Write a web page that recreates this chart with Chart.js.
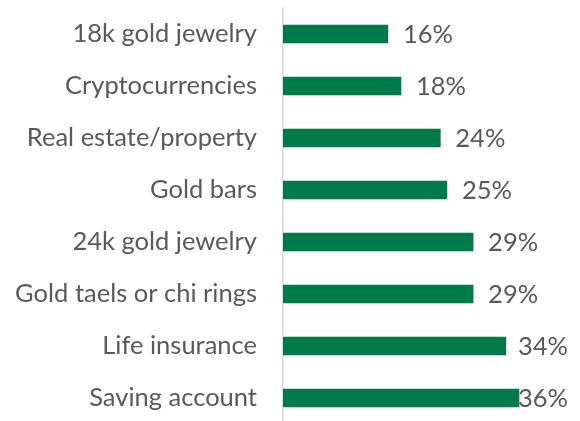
<!DOCTYPE html>
<html>
<head>
<meta charset="utf-8">
<script src="https://cdn.jsdelivr.net/npm/chart.js@4/dist/chart.umd.min.js"></script>
<style>
  html, body { margin: 0; padding: 0; background: #fff; overflow: hidden; }
  #wrap { width: 580px; height: 424px; }
</style>
</head>
<body>
<div id="wrap"><canvas id="barChart" width="580" height="424"></canvas></div>
<script>
const categories = ["18k gold jewelry", "Cryptocurrencies", "Real estate/property", "Gold bars",
                    "24k gold jewelry", "Gold taels or chi rings", "Life insurance", "Saving account"];
const shares = [16, 18, 24, 25, 29, 29, 34, 36];

const FONT = { family: "Lato, 'Open Sans', sans-serif", size: 25.5 };
const TEXT = '#595959';

// value labels at the bar ends, pulled back if they would run off the right edge
const endLabels = {
  id: 'endLabels',
  afterDatasetsDraw(chart) {
    const c = chart.ctx;
    const meta = chart.getDatasetMeta(0);
    c.save();
    c.font = FONT.size + 'px ' + FONT.family;
    c.fillStyle = TEXT;
    c.textBaseline = 'middle';
    c.textAlign = 'left';
    meta.data.forEach((bar, i) => {
      const txt = shares[i] + '%';
      const w = c.measureText(txt).width;
      let x = bar.x + 15;
      if (x + w > 568) x = 568 - w;
      c.fillText(txt, x, bar.y + 1);
    });
    c.restore();
  }
};

const ctx = document.getElementById('barChart');
new Chart(ctx, {
  type: 'bar',
  data: {
    labels: categories,
    datasets: [{
      data: shares,
      backgroundColor: '#007A4B',
      borderWidth: 0,
      barThickness: 18
    }]
  },
  options: {
    indexAxis: 'y',
    responsive: false,
    animation: false,
    devicePixelRatio: 1,
    layout: { padding: { top: 8, right: 2, bottom: 0, left: 0 } },
    plugins: { legend: { display: false }, tooltip: { enabled: false } },
    scales: {
      x: { display: false, min: 0, max: 45 },
      y: {
        grid: { display: false, drawTicks: false },
        border: { display: true, color: '#D9D9D9', width: 1.5 },
        ticks: { font: FONT, color: TEXT, padding: 26 },
        afterFit: s => { s.width = 283; s.paddingTop = 0; s.paddingBottom = 0; }
      }
    }
  },
  plugins: [endLabels]
});
</script>
</body>
</html>
